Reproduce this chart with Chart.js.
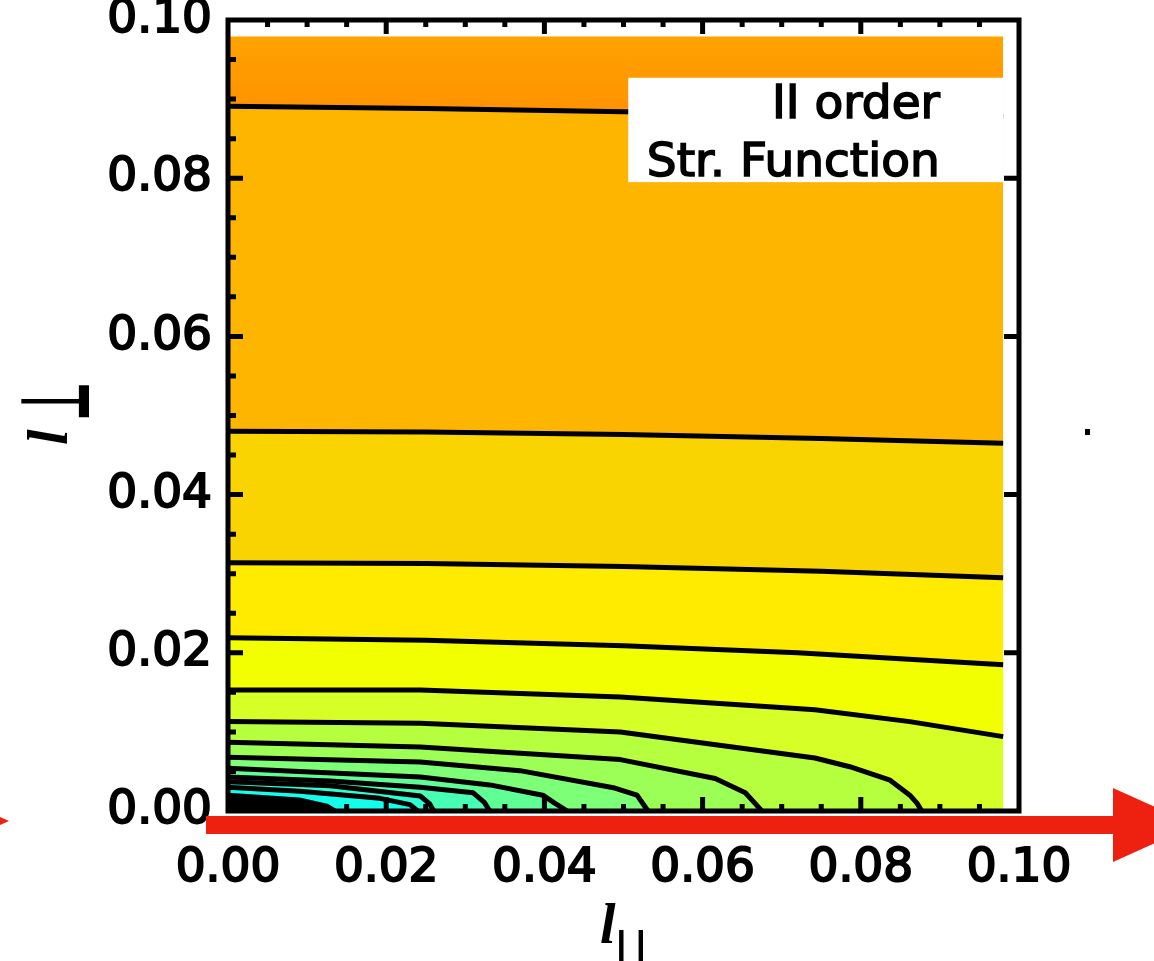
<!DOCTYPE html>
<html>
<head>
<meta charset="utf-8">
<style>
  html, body { margin: 0; padding: 0; background: #fff; }
  #wrap { width: 1154px; height: 961px; }
</style>
<script src="https://cdn.jsdelivr.net/npm/chart.js@4.4.1/dist/chart.umd.min.js"></script>
</head>
<body>
<div id="wrap"><canvas id="myChart" width="1154" height="961"></canvas></div>
<script>
const X_TICKS = [0, 0.02, 0.04, 0.06, 0.08, 0.10];
const X_TICK_LABELS = ['0.00', '0.02', '0.04', '0.06', '0.08', '0.10'];
const Y_TICKS = [0, 0.02, 0.04, 0.06, 0.08, 0.10];
const Y_TICK_LABELS = ['0.00', '0.02', '0.04', '0.06', '0.08', '0.10'];

// upper edge of the coloured map
const TOP_EDGE = [[0, 0.0979], [0.098, 0.0979]];

// contour lines, [l_par, l_perp], top to bottom
const C1 = [[0, 0.0891], [0.025, 0.0888], [0.05, 0.0884], [0.075, 0.0881], [0.098, 0.0878]];
const C2 = [[0, 0.0480], [0.025, 0.0479], [0.05, 0.0476], [0.075, 0.0471], [0.098, 0.0465]];
const C3 = [[0, 0.0314], [0.025, 0.0313], [0.05, 0.0309], [0.075, 0.0303], [0.098, 0.0295]];
const C4 = [[0, 0.0219], [0.025, 0.0216], [0.05, 0.0209], [0.072, 0.0200], [0.098, 0.0185]];
const C5 = [[0, 0.0153], [0.0243, 0.0153], [0.0496, 0.0144], [0.0742, 0.0128], [0.0862, 0.0113], [0.098, 0.0094]];
const C6 = [[0, 0.0113], [0.0243, 0.0111], [0.0496, 0.0100], [0.0742, 0.0067], [0.0786, 0.0056],
            [0.0837, 0.0039], [0.0862, 0.0020], [0.0871, 0.0010], [0.0877, 0]];
const C7 = [[0, 0.0087], [0.0243, 0.0081], [0.0496, 0.0065], [0.0616, 0.0041], [0.0654, 0.0023],
            [0.0666, 0.0010], [0.0675, 0]];
const C8 = [[0, 0.0068], [0.0243, 0.0062], [0.0369, 0.0051], [0.0489, 0.0029], [0.0517, 0.0020], [0.0531, 0]];
const C9 = [[0, 0.0054], [0.0243, 0.0043], [0.0331, 0.0033], [0.0398, 0.0020], [0.0413, 0.0010], [0.0429, 0]];
const C10 = [[0, 0.0043], [0.0129, 0.0038], [0.0243, 0.0030], [0.0310, 0.0023], [0.0324, 0.0011], [0.0331, 0]];
const C11 = [[0, 0.0037], [0.0129, 0.0032], [0.0243, 0.0019], [0.0255, 0.0009], [0.0260, 0]];
const C12 = [[0, 0.0030], [0.0091, 0.0025], [0.0192, 0.0016], [0.0230, 0.0008], [0.0240, 0]];
const C13 = [[0, 0.0020], [0.0090, 0.0014], [0.0125, 0.0006], [0.0135, 0]];

const CONTOURS = [C1, C2, C3, C4, C5, C6, C7, C8, C9, C10, C11, C12, C13];

// colour of the band just below each contour
const BAND_COLORS = ['#FDB500', '#FAD400', '#FFEB00', '#F2FF00', '#D5FF26', '#B6FF3E', '#9BFF55',
                     '#7DFF78', '#5FFF96', '#46FFB4', '#2DFFD2', '#14FFEB', '#000000'];

const LEGEND_LINES = ['II order', 'Str. Function'];

function toPoints(arr) {
  return arr.map(function(p) { return {x: p[0], y: p[1]}; });
}

function topBandColor(context) {
  const chart = context.chart;
  if (!chart.chartArea) return '#FF9C00';
  const y = chart.scales.y;
  const g = chart.ctx.createLinearGradient(0, y.getPixelForValue(0.098), 0, y.getPixelForValue(0.089));
  g.addColorStop(0, '#FFA300');
  g.addColorStop(1, '#FF9300');
  return g;
}

// frame with inward ticks, legend box, axis titles and the red arrow
const framePlugin = {
  id: 'frame',
  afterDatasetsDraw(chart) {
    const ctx = chart.ctx;
    const a = chart.chartArea;
    const x = chart.scales.x, y = chart.scales.y;
    ctx.save();

    // legend box
    const bx0 = x.getPixelForValue(0.0506), bx1 = x.getPixelForValue(0.098);
    const by0 = y.getPixelForValue(0.0927), by1 = y.getPixelForValue(0.0795);
    ctx.fillStyle = '#fff';
    ctx.fillRect(bx0, by0, bx1 - bx0, by1 - by0);
    ctx.fillStyle = '#000';
    ctx.strokeStyle = '#000';
    ctx.lineWidth = 1.6;
    ctx.font = '47px "DejaVu Sans"';
    ctx.textAlign = 'right';
    ctx.textBaseline = 'alphabetic';
    const tx = x.getPixelForValue(0.09);
    ctx.fillText(LEGEND_LINES[0], tx, by0 + 40);
    ctx.strokeText(LEGEND_LINES[0], tx, by0 + 40);
    ctx.fillText(LEGEND_LINES[1], tx, by0 + 98);
    ctx.strokeText(LEGEND_LINES[1], tx, by0 + 98);

    // frame
    ctx.lineWidth = 5;
    ctx.strokeRect(a.left, a.top, a.width, a.height);

    // ticks, minor every 0.005
    ctx.beginPath();
    for (let i = 1; i < 20; i++) {
      const v = i * 0.005;
      const major = i % 4 === 0;
      const px = x.getPixelForValue(v), py = y.getPixelForValue(v);
      ctx.moveTo(a.left, py); ctx.lineTo(a.left + (major ? 15 : 8), py);
      ctx.moveTo(px, a.bottom); ctx.lineTo(px, a.bottom - (major ? 14 : 7));
      ctx.moveTo(px, a.top); ctx.lineTo(px, a.top + (major ? 14 : 7));
      if (major) { ctx.moveTo(a.right, py); ctx.lineTo(a.right - 15, py); }
    }
    ctx.stroke();

    // axis titles
    ctx.textAlign = 'left';
    ctx.font = 'bold italic 56px "Liberation Serif"';
    ctx.fillText('l', 600, 943);
    ctx.font = 'bold 40px "DejaVu Sans"';
    ctx.letterSpacing = '5px';
    ctx.fillText('||', 614, 961);
    ctx.letterSpacing = '0px';

    ctx.save();
    ctx.translate(67, 445);
    ctx.rotate(-Math.PI / 2);
    ctx.font = 'bold italic 56px "Liberation Serif"';
    ctx.fillText('l', 0, 0);
    ctx.translate(24, 22);
    ctx.scale(0.45, 1);
    ctx.font = 'bold 96px "DejaVu Sans"';
    ctx.fillText('\u22A5', 0, 0);
    ctx.restore();

    // red arrow under the axis
    ctx.fillStyle = '#EE2010';
    ctx.fillRect(a.left - 22, a.bottom + 5, 907, 18);
    ctx.beginPath();
    ctx.moveTo(a.left + 885, a.bottom - 23);
    ctx.lineTo(a.left + 967, a.bottom + 14);
    ctx.lineTo(a.left + 885, a.bottom + 51);
    ctx.closePath();
    ctx.fill();
    ctx.beginPath();
    ctx.moveTo(0, a.bottom + 6);
    ctx.lineTo(9, a.bottom + 10);
    ctx.lineTo(0, a.bottom + 14);
    ctx.closePath();
    ctx.fill();

    ctx.fillStyle = '#000';
    ctx.fillRect(1085, 429, 5, 6);
    ctx.restore();
  }
};

window.onload = function() {
  const ctx = document.getElementById('myChart');

  const datasets = [{
    data: toPoints(TOP_EDGE),
    fill: 'origin',
    backgroundColor: topBandColor,
    borderColor: 'rgba(0,0,0,0)',
    borderWidth: 1,
    order: 30
  }];
  CONTOURS.forEach(function(c, i) {
    datasets.push({
      data: toPoints(c),
      fill: 'origin',
      backgroundColor: BAND_COLORS[i],
      borderColor: '#000',
      borderWidth: 5,
      order: 29 - i
    });
  });

  const tickFont = {family: 'DejaVu Sans', size: 47};

  const config = {
    type: 'line',
    data: {datasets: datasets},
    options: {
      responsive: false,
      animation: false,
      devicePixelRatio: 1,
      layout: {padding: {top: 20, right: 135, left: 0, bottom: 0}},
      elements: {
        point: {radius: 0},
        line: {tension: 0, borderJoinStyle: 'round'}
      },
      plugins: {
        legend: {display: false},
        tooltip: {enabled: false},
        filler: {drawTime: 'beforeDatasetsDraw', propagate: false}
      },
      scales: {
        x: {
          type: 'linear', min: 0, max: 0.1,
          grid: {display: false, drawTicks: false},
          border: {display: false},
          afterBuildTicks: function(s) { s.ticks = X_TICKS.map(function(v) { return {value: v}; }); },
          afterFit: function(s) {
            s.height = 150;
            s.paddingLeft = 0; s.paddingRight = 0; s.paddingTop = 0; s.paddingBottom = 0;
          },
          ticks: {
            autoSkip: false, maxRotation: 0, padding: 30, color: '#000', font: tickFont,
            textStrokeColor: '#000', textStrokeWidth: 2,
            callback: function(v, i) { return X_TICK_LABELS[i]; }
          }
        },
        y: {
          type: 'linear', min: 0, max: 0.1,
          grid: {display: false, drawTicks: false},
          border: {display: false},
          afterBuildTicks: function(s) { s.ticks = Y_TICKS.map(function(v) { return {value: v}; }); },
          afterFit: function(s) {
            s.width = 228;
            s.paddingLeft = 0; s.paddingRight = 0; s.paddingTop = 0; s.paddingBottom = 0;
          },
          ticks: {
            autoSkip: false, padding: 16, color: '#000', font: tickFont,
            textStrokeColor: '#000', textStrokeWidth: 2,
            callback: function(v, i) { return Y_TICK_LABELS[i]; }
          }
        }
      }
    },
    plugins: [framePlugin]
  };

  new Chart(ctx, config);
};
</script>
</body>
</html>
